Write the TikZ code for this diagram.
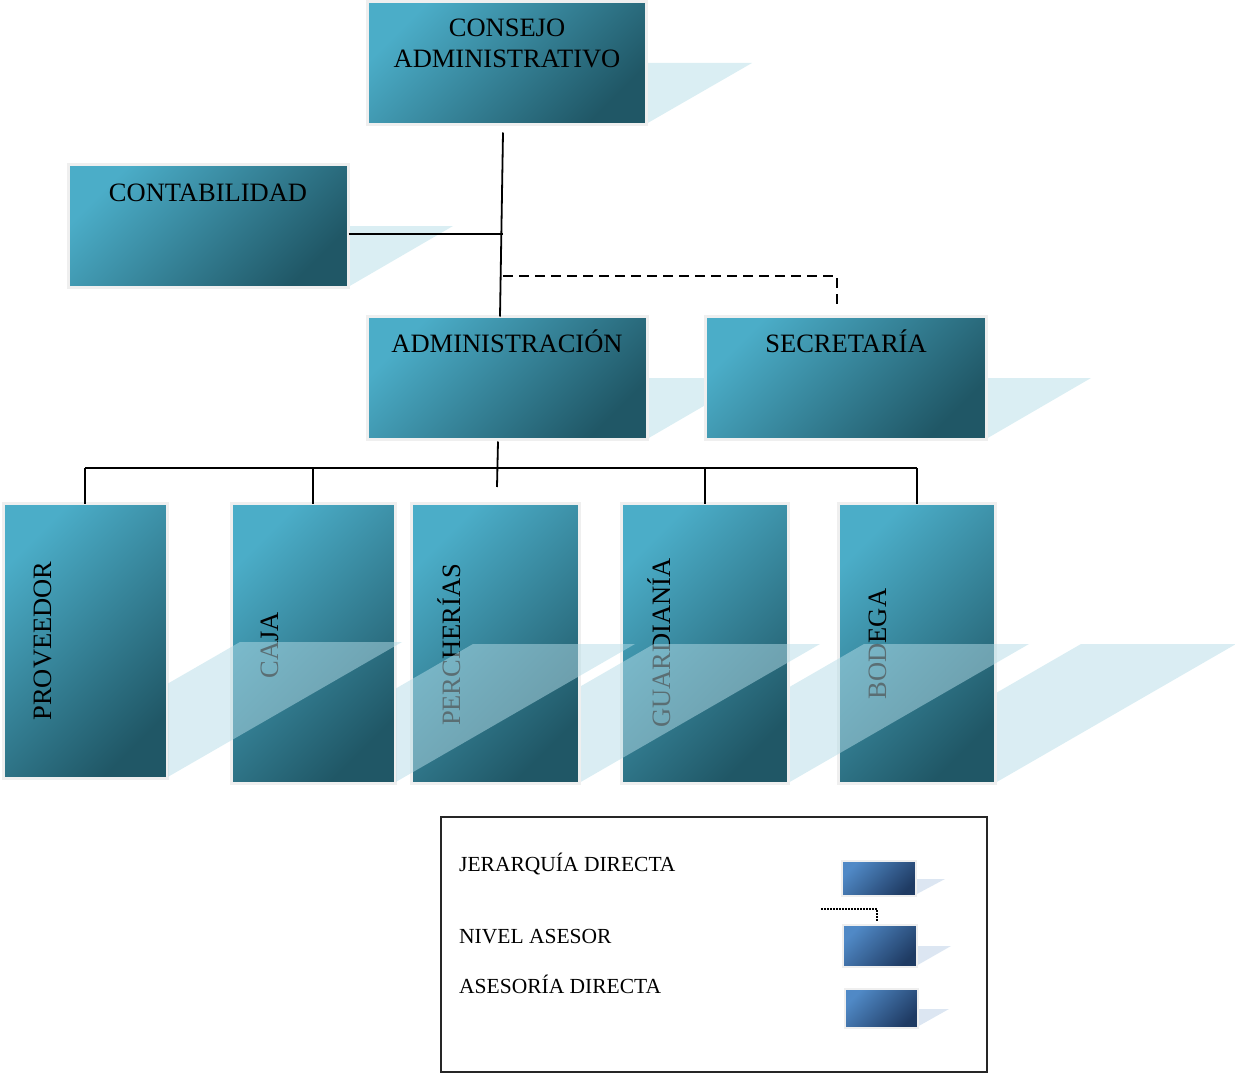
\documentclass[tikz,border=0pt]{standalone}
\usepackage{fontspec}
\setmainfont{Liberation Serif}
\definecolor{tealL}{HTML}{4BADC8}
\definecolor{tealD}{HTML}{205766}
\definecolor{shadowU}{HTML}{DAEEF3}
\definecolor{shadowC}{HTML}{B5DCE7}
\definecolor{blueL}{HTML}{5089C6}
\definecolor{blueD}{HTML}{1F3B63}
\definecolor{legShadow}{HTML}{DCE6F2}
\definecolor{frameC}{HTML}{EFEFEF}
\begin{document}
\begin{tikzpicture}[x=1pt,y=-1pt,
  orgbox/.style={shade, top color=tealL, bottom color=tealD, shading angle=45,
    draw=frameC, line width=3pt, inner sep=0pt, outer sep=0pt, anchor=north west},
  legbox/.style={shade, top color=blueL, bottom color=blueD, shading angle=45,
    draw=frameC, line width=2.5pt, inner sep=0pt, outer sep=0pt, anchor=north west},
  lbl/.style={font=\fontsize{26.5}{31}\selectfont, inner sep=0pt, anchor=base},
  vlbl/.style={font=\fontsize{26.5}{31}\selectfont, inner sep=0pt, anchor=base, rotate=90},
  legtxt/.style={font=\fontsize{21.5}{25}\selectfont, inner sep=0pt, anchor=base west},
  conn/.style={line width=1.8pt, black},
  dashline/.style={line width=2.5pt, black, dash pattern=on 10pt off 6pt},
  dotline/.style={line width=1.5pt, black, dash pattern=on 1.5pt off 1.5pt},
  upshadow/.style={fill=shadowU},
  lowshadow/.style={fill=shadowC, fill opacity=0.5},
  legshadow/.style={fill=legShadow}]
\useasboundingbox (0,0) rectangle (1235,1073);

% ---------- upper level shadows (behind boxes)
\fill[upshadow] (369,124) -- (646,124) -- (752,63) -- (475,63) -- cycle;
\fill[upshadow] (70,287) -- (348,287) -- (453,226) -- (175,226) -- cycle;
\fill[upshadow] (369,439) -- (647,439) -- (752,378) -- (474,378) -- cycle;
\fill[upshadow] (707,439) -- (986,439) -- (1091,378) -- (812,378) -- cycle;

% ---------- upper level boxes
\node[orgbox, minimum width=279pt, minimum height=123pt] (consejo) at (367.5,1.5) {};
\node[lbl] (consejoT1) at (507,37) {CONSEJO};
\node[lbl] (consejoT2) at (507,68) {ADMINISTRATIVO};

\node[orgbox, minimum width=280pt, minimum height=123pt] (conta) at (68.5,164.5) {};
\node[lbl] (contaT) at (208,201) {CONTABILIDAD};

\node[orgbox, minimum width=280pt, minimum height=123pt] (admin) at (367.5,316.5) {};
\node[lbl] (adminT) at (507,352) {ADMINISTRACIÓN};

\node[orgbox, minimum width=281pt, minimum height=123pt] (secret) at (705.5,316.5) {};
\node[lbl] (secretT) at (846,352) {SECRETARÍA};

% ---------- lower level boxes
\node[orgbox, minimum width=164pt, minimum height=275pt] (prov) at (3,503.5) {};
\node[vlbl] (provT) at (51,641) {PROVEEDOR};
\node[orgbox, minimum width=164pt, minimum height=280pt] (caja) at (231,503.5) {};
\node[vlbl] (cajaT) at (278,645) {CAJA};
\node[orgbox, minimum width=168pt, minimum height=280pt] (perch) at (411.5,503.5) {};
\node[vlbl] (perchT) at (460,645) {PERCHERÍAS};
\node[orgbox, minimum width=167pt, minimum height=280pt] (guard) at (621.5,503.5) {};
\node[vlbl] (guardT) at (670,643) {GUARDIANÍA};
\node[orgbox, minimum width=157pt, minimum height=280pt] (bod) at (838.5,503.5) {};
\node[vlbl] (bodT) at (886,644) {BODEGA};

% ---------- lower level shadows (translucent, over the neighbours)
\begin{scope}\clip (168,0) rectangle (1240,1073);
\fill[lowshadow] (4,778) -- (166,778) -- (402,642) -- (240,642) -- cycle;\end{scope}
\begin{scope}\clip (396,0) rectangle (1240,1073);
\fill[lowshadow] (232,783) -- (394,783) -- (635,644) -- (473,644) -- cycle;\end{scope}
\begin{scope}\clip (581,0) rectangle (1240,1073);
\fill[lowshadow] (413,783) -- (579,783) -- (820,644) -- (654,644) -- cycle;\end{scope}
\begin{scope}\clip (790,0) rectangle (1240,1073);
\fill[lowshadow] (623,783) -- (788,783) -- (1029,644) -- (864,644) -- cycle;\end{scope}
\begin{scope}\clip (997,0) rectangle (1240,1073);
\fill[lowshadow] (840,783) -- (995,783) -- (1236,644) -- (1081,644) -- cycle;\end{scope}

% ---------- connectors
\coordinate (j1) at (503,234);
\coordinate (j2) at (503,276);
\coordinate (a2) at (497,487);
\coordinate (bus) at (0,468);
\draw[conn] ([xshift=-4pt,yshift=-8pt]consejo.south) -- ([xshift=-7.5pt]admin.north);
\draw[conn] ([yshift=-8pt]conta.east) -- (j1);
\draw[dashline] (j2) -| ([xshift=-9pt,yshift=12pt]secret.north);
\draw[conn] ([xshift=-9.5pt,yshift=-2pt]admin.south) -- (a2);
\draw[conn] (prov.north |- bus) -- (bod.north |- bus);
\draw[conn] (prov.north |- bus) -- (prov.north);
\draw[conn] (caja.north |- bus) -- (caja.north);
\draw[conn] (guard.north |- bus) -- (guard.north);
\draw[conn] (bod.north |- bus) -- (bod.north);

% ---------- legend
\node[draw=black!85, line width=2pt, minimum width=546pt, minimum height=255pt,
  inner sep=0pt, anchor=north west] (legend) at (439.5,815.5) {};
\node[legtxt] (l1) at (459,871) {JERARQUÍA DIRECTA};
\node[legtxt] (l2) at (459,943) {NIVEL ASESOR};
\node[legtxt] (l3) at (459,993) {ASESORÍA DIRECTA};

\fill[legshadow] (843,895) -- (915,895) -- (945,879) -- (873,879) -- cycle;
\fill[legshadow] (844,966) -- (916,966) -- (951,946) -- (879,946) -- cycle;
\fill[legshadow] (846,1027) -- (917,1027) -- (949,1009) -- (878,1009) -- cycle;
\node[legbox, minimum width=74pt, minimum height=35pt] (leg1) at (842,861) {};
\node[legbox, minimum width=74pt, minimum height=42pt] (leg2) at (843,925) {};
\node[legbox, minimum width=73pt, minimum height=39pt] (leg3) at (845,989) {};

\coordinate (d1) at (821,909);
\draw[dotline] (d1) -| ([xshift=-3pt,yshift=3pt]leg2.north);
\end{tikzpicture}
\end{document}
